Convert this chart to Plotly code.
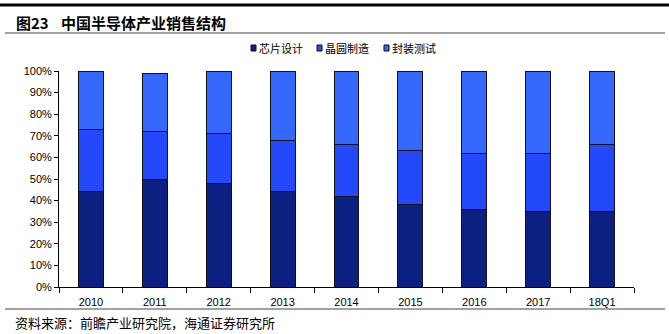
import plotly.graph_objects as go

categories = ["2010", "2011", "2012", "2013", "2014", "2015", "2016", "2017", "18Q1"]
design = [44, 50, 48, 44, 42, 38, 36, 35, 35]
manufacturing = [29, 22, 23, 24, 24, 25, 26, 27, 31]
packaging = [27, 27, 29, 32, 34, 37, 38, 38, 34]
series_names = ["芯片设计", "晶圆制造", "封装测试"]
colors = ["#0B2080", "#2449FB", "#3467FB"]

W, H = 669, 334
L, R, T, B = 59, 35, 71, 47

fig = go.Figure()
for name, vals, c in zip(series_names, [design, manufacturing, packaging], colors):
    fig.add_trace(go.Bar(
        x=categories, y=vals, name=name,
        marker=dict(color=c, line=dict(color="#111111", width=1)),
        width=0.39,
    ))

font = "Liberation Sans, Arial, Noto Sans CJK SC, sans-serif"
cjk = "Noto Sans CJK SC, sans-serif"

def px_x(x):
    return (x - L) / (W - L - R)

def px_y(y):
    return 1 - (y - T) / (H - T - B)

shapes = [
    dict(type="line", xref="paper", yref="paper", x0=px_x(0), x1=px_x(669),
         y0=px_y(5), y1=px_y(5), line=dict(color="#000000", width=3)),
    dict(type="line", xref="paper", yref="paper", x0=px_x(5), x1=px_x(665),
         y0=px_y(33), y1=px_y(33), line=dict(color="#444444", width=1)),
    dict(type="line", xref="paper", yref="paper", x0=px_x(5), x1=px_x(665),
         y0=px_y(309), y1=px_y(309), line=dict(color="#444444", width=1)),
]
annotations = [
    dict(text="<b>图23</b>", xref="paper", yref="paper",
         x=px_x(14), y=px_y(22), xanchor="left", yanchor="middle", showarrow=False,
         font=dict(family=cjk, size=15, color="#000000")),
    dict(text="<b>中国半导体产业销售结构</b>", xref="paper", yref="paper",
         x=px_x(59), y=px_y(22), xanchor="left", yanchor="middle", showarrow=False,
         font=dict(family=cjk, size=15, color="#000000")),
    dict(text="资料来源：前瞻产业研究院，海通证券研究所", xref="paper", yref="paper",
         x=px_x(13), y=px_y(322), xanchor="left", yanchor="middle", showarrow=False,
         font=dict(family=cjk, size=13, color="#000000")),
]

# legend drawn as small squares + text
leg_x = [251, 317, 384]
leg_y = 48
for name, c, lx in zip(series_names, colors, leg_x):
    shapes.append(dict(type="rect", xref="paper", yref="paper",
                       x0=px_x(lx), x1=px_x(lx + 5), y0=px_y(leg_y - 3), y1=px_y(leg_y + 3),
                       fillcolor=c, line=dict(color="#111111", width=1)))
    annotations.append(dict(text=name, xref="paper", yref="paper",
                            x=px_x(lx + 6), y=px_y(leg_y), xanchor="left", yanchor="middle",
                            showarrow=False, font=dict(family=cjk, size=11, color="#000000")))

fig.update_layout(
    width=W, height=H,
    margin=dict(l=L, r=R, t=T, b=B),
    barmode="stack",
    plot_bgcolor="white", paper_bgcolor="white",
    font=dict(family=font, size=11, color="#000000"),
    showlegend=False,
    xaxis=dict(showline=True, linecolor="#000000", linewidth=1, ticks="outside",
               tickson="boundaries", ticklen=5, tickcolor="#000000",
               tickfont=dict(size=11), showgrid=False, ticklabelstandoff=5),
    yaxis=dict(range=[0, 100], dtick=10, ticksuffix="%", showline=True,
               linecolor="#000000", linewidth=1, ticks="outside", ticklen=4,
               tickcolor="#000000", showgrid=False, zeroline=False,
               tickfont=dict(size=11)),
    shapes=shapes,
    annotations=annotations,
)

fig.write_html("out.html")
